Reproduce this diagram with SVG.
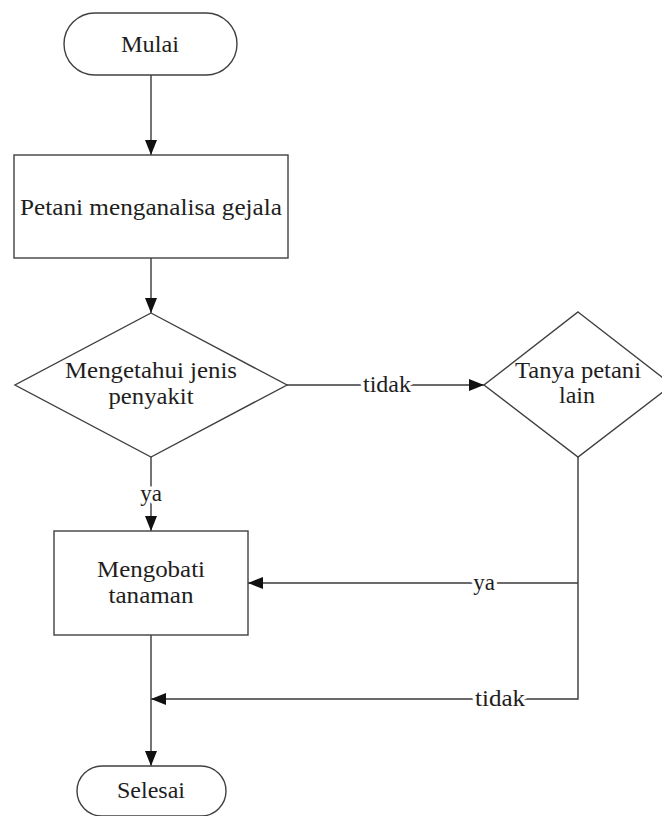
<svg xmlns="http://www.w3.org/2000/svg" width="662" height="816" viewBox="0 0 662 816">
  <style>
    .shape { fill: #ffffff; stroke: #404040; stroke-width: 1.4; }
    .line { fill: none; stroke: #3a3a3a; stroke-width: 1.4; }
    text { font-family: "Liberation Serif", "Times New Roman", serif; font-size: 23px; fill: #1e1e1e; text-anchor: middle; }
    .lbl { paint-order: stroke; stroke: #ffffff; stroke-width: 7px; stroke-linejoin: round; }
  </style>
  <defs>
    <marker id="arrow" markerUnits="userSpaceOnUse" markerWidth="16" markerHeight="12" refX="15" refY="6" orient="auto">
      <path d="M0,0 L15,6 L0,12 Z" fill="#111111"/>
    </marker>
  </defs>
  <rect width="662" height="816" fill="#ffffff"/>

  <g id="connectors">
    <path class="line" d="M151,75 L151,155" marker-end="url(#arrow)"/>
    <path class="line" d="M151,258 L151,313" marker-end="url(#arrow)"/>
    <path class="line" d="M287,385 L484,385" marker-end="url(#arrow)"/>
    <path class="line" d="M151,457 L151,531" marker-end="url(#arrow)"/>
    <path class="line" d="M578,457 L578,699 L151,699" marker-end="url(#arrow)"/>
    <path class="line" d="M578,583 L248,583" marker-end="url(#arrow)"/>
    <path class="line" d="M151,635 L151,766" marker-end="url(#arrow)"/>
    <text class="lbl" x="387" y="392" textLength="48" lengthAdjust="spacingAndGlyphs">tidak</text>
    <text class="lbl" x="151" y="501">ya</text>
    <text class="lbl" x="484" y="590">ya</text>
    <text class="lbl" x="500" y="706" textLength="50" lengthAdjust="spacingAndGlyphs">tidak</text>
  </g>

  <g id="mulai">
    <rect class="shape" x="64" y="13" width="173" height="62" rx="31" ry="31"/>
    <text x="150" y="52" textLength="58" lengthAdjust="spacingAndGlyphs">Mulai</text>
  </g>

  <g id="analisa">
    <rect class="shape" x="14" y="155" width="274" height="103"/>
    <text x="151" y="215" textLength="262" lengthAdjust="spacingAndGlyphs">Petani menganalisa gejala</text>
  </g>

  <g id="keputusan1">
    <polygon class="shape" points="151,313 287,385 151,457 15,385"/>
    <text x="151" y="378" textLength="172" lengthAdjust="spacingAndGlyphs">Mengetahui jenis</text>
    <text x="151" y="404" textLength="85" lengthAdjust="spacingAndGlyphs">penyakit</text>
  </g>

  <g id="keputusan2">
    <polygon class="shape" points="578,312 672,385 578,457 484,385"/>
    <text x="578" y="378" textLength="126" lengthAdjust="spacingAndGlyphs">Tanya petani</text>
    <text x="577" y="403" textLength="36" lengthAdjust="spacingAndGlyphs">lain</text>
  </g>

  <g id="mengobati">
    <rect class="shape" x="54" y="531" width="194" height="104"/>
    <text x="151" y="577" textLength="108" lengthAdjust="spacingAndGlyphs">Mengobati</text>
    <text x="151" y="603" textLength="85" lengthAdjust="spacingAndGlyphs">tanaman</text>
  </g>

  <g id="selesai">
    <rect class="shape" x="77" y="766" width="149" height="50" rx="25" ry="25"/>
    <text x="151" y="798" textLength="68" lengthAdjust="spacingAndGlyphs">Selesai</text>
  </g>
</svg>
